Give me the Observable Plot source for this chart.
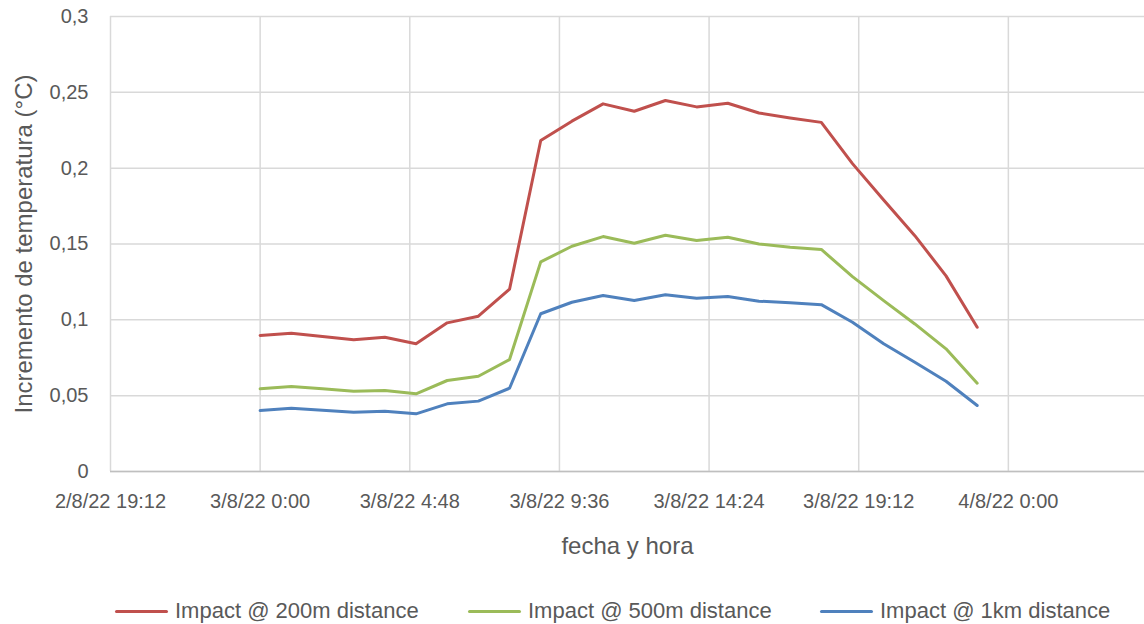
<!DOCTYPE html>
<html>
<head>
<meta charset="utf-8">
<script src="https://cdn.jsdelivr.net/npm/d3@7"></script>
<script src="https://cdn.jsdelivr.net/npm/@observablehq/plot@0.6"></script>
<style>
  html, body { margin: 0; padding: 0; background: #fff; }
  body { width: 1144px; height: 624px; overflow: hidden; font-family: "Liberation Sans", Arial, sans-serif; color: #595959; }
  #legend { position: relative; height: 44px; font-size: 22px; color: #595959; }
  .item { position: absolute; top: 0; display: flex; align-items: center; height: 34px; white-space: nowrap; }
  .sw { width: 53px; height: 3px; margin-right: 7px; border-radius: 2px; }
</style>
</head>
<body>
<div id="chart"></div>
<div id="legend"></div>
<script>
// ---- data ----
const times = [
  "2022-08-03T00:00","2022-08-03T01:00","2022-08-03T02:00","2022-08-03T03:00",
  "2022-08-03T04:00","2022-08-03T05:00","2022-08-03T06:00","2022-08-03T07:00",
  "2022-08-03T08:00","2022-08-03T09:00","2022-08-03T10:00","2022-08-03T11:00",
  "2022-08-03T12:00","2022-08-03T13:00","2022-08-03T14:00","2022-08-03T15:00",
  "2022-08-03T16:00","2022-08-03T17:00","2022-08-03T18:00","2022-08-03T19:00",
  "2022-08-03T20:00","2022-08-03T21:00","2022-08-03T22:00","2022-08-03T23:00"
];
const impact200m = [0.0897,0.0912,0.0890,0.0868,0.0885,0.0842,0.0980,0.1024,0.1202,0.2182,0.2310,0.2424,
                    0.2375,0.2446,0.2404,0.2428,0.2364,0.2331,0.2302,0.2030,0.1790,0.1555,0.1290,0.0951];
const impact500m = [0.0545,0.0560,0.0546,0.0529,0.0534,0.0512,0.0600,0.0628,0.0738,0.1382,0.1485,0.1549,
                    0.1505,0.1558,0.1523,0.1545,0.1500,0.1479,0.1464,0.1285,0.1127,0.0973,0.0809,0.0582];
const impact1km  = [0.0402,0.0417,0.0404,0.0391,0.0398,0.0380,0.0446,0.0464,0.0549,0.1040,0.1116,0.1160,
                    0.1127,0.1165,0.1143,0.1154,0.1123,0.1112,0.1100,0.0984,0.0842,0.0720,0.0595,0.0435];
const seriesNames = ["Impact @ 200m distance", "Impact @ 500m distance", "Impact @ 1km distance"];
const seriesColors = ["#C0504D", "#9BBB59", "#4F81BD"];
const xTicks = ["2022-08-02T19:12","2022-08-03T00:00","2022-08-03T04:48","2022-08-03T09:36",
                "2022-08-03T14:24","2022-08-03T19:12","2022-08-04T00:00"];
const xTickLabels = ["2/8/22 19:12","3/8/22 0:00","3/8/22 4:48","3/8/22 9:36",
                     "3/8/22 14:24","3/8/22 19:12","4/8/22 0:00"];
const xDomain = ["2022-08-02T19:12","2022-08-04T04:22"];
const yTicks = [0, 0.05, 0.1, 0.15, 0.2, 0.25, 0.3];
const yTickLabels = ["0","0,05","0,1","0,15","0,2","0,25","0,3"];

// ---- build ----
const toDate = s => new Date(s + ":00Z");
const allSeries = [impact200m, impact500m, impact1km];
const rows = [];
allSeries.forEach((vals, si) => vals.forEach((v, i) => rows.push({t: toDate(times[i]), v, s: seriesNames[si]})));
const xTickDates = xTicks.map(toDate);
const xLabelMap = new Map(xTickDates.map((d, i) => [+d, xTickLabels[i]]));
const yLabelMap = new Map(yTicks.map((d, i) => [d, yTickLabels[i]]));

const chart = Plot.plot({
  width: 1144,
  height: 580,
  marginLeft: 110,
  marginRight: 0,
  marginTop: 16,
  marginBottom: 109,
  style: {fontFamily: "'Liberation Sans', Arial, sans-serif", fontSize: "20px", color: "#595959", background: "#fff"},
  x: {type: "utc", domain: xDomain.map(toDate)},
  y: {domain: [0, 0.3]},
  color: {domain: seriesNames, range: seriesColors},
  marks: [
    Plot.gridY(yTicks, {stroke: "#d9d9d9", strokeOpacity: 1, strokeWidth: 1.5}),
    Plot.gridX(xTickDates, {stroke: "#d9d9d9", strokeOpacity: 1, strokeWidth: 1.5}),
    Plot.ruleY([0], {stroke: "#bfbfbf", strokeWidth: 1.5}),
    Plot.axisX(xTickDates, {tickSize: 0, tickPadding: 22, tickFormat: d => xLabelMap.get(+d),
      label: null, fill: "#595959", fontSize: 20}),
    Plot.axisX({label: "fecha y hora", labelAnchor: "center", labelOffset: 82, labelArrow: "none",
      ticks: [], tickSize: 0, fill: "#595959", fontSize: 24}),
    Plot.axisY(yTicks, {tickSize: 0, tickPadding: 22, tickFormat: d => yLabelMap.get(d),
      label: null, fill: "#595959", fontSize: 20}),
    Plot.axisY({label: "Incremento de temperatura (°C)", labelAnchor: "center", labelOffset: 96, labelArrow: "none",
      ticks: [], tickSize: 0, fill: "#595959", fontSize: 24}),
    Plot.line(rows, {x: "t", y: "v", z: "s", stroke: "s", strokeWidth: 3, strokeLinejoin: "round", strokeLinecap: "round"})
  ]
});
document.getElementById("chart").appendChild(chart);

// legend
const legend = document.getElementById("legend");
const lefts = [115, 468, 820];
seriesNames.forEach((name, i) => {
  const it = document.createElement("div");
  it.className = "item";
  it.style.left = lefts[i] + "px";
  it.style.top = "14px";
  const sw = document.createElement("div");
  sw.className = "sw";
  sw.style.background = seriesColors[i];
  const tx = document.createElement("span");
  tx.textContent = name;
  it.appendChild(sw); it.appendChild(tx);
  legend.appendChild(it);
});
</script>
</body>
</html>
